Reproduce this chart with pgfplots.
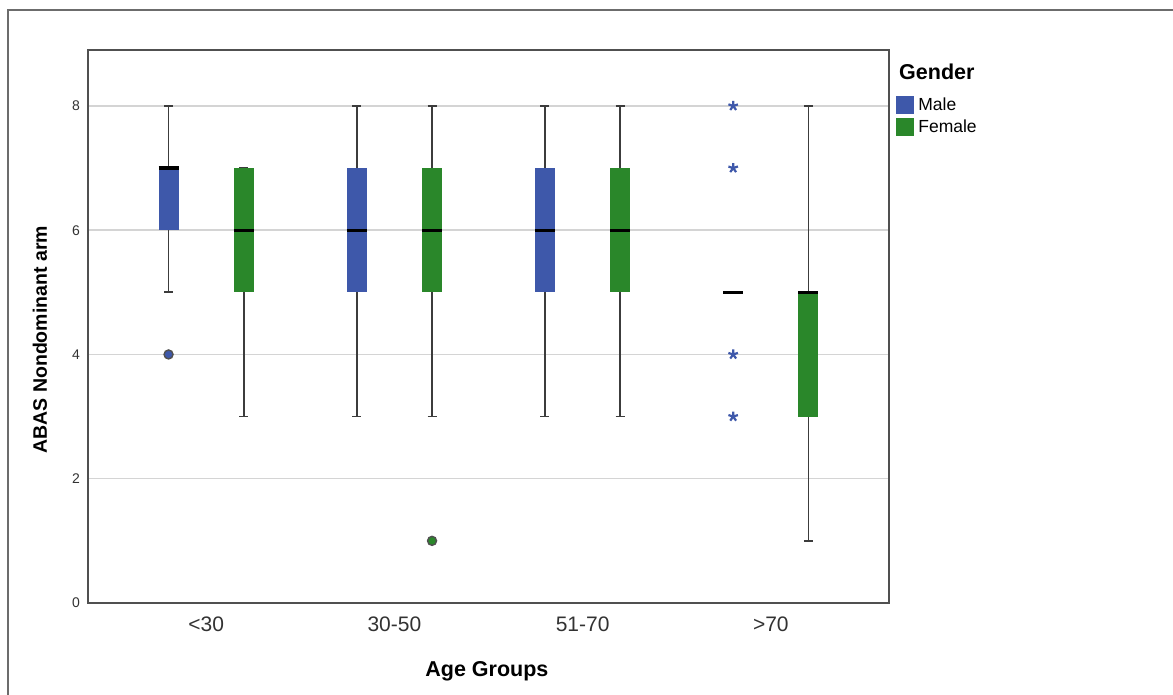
\documentclass[border=0pt]{standalone}
\usepackage{pgfplots}
\pgfplotsset{compat=1.18}
\usepgfplotslibrary{statistics}
\usepackage{fontspec}
\setmainfont{Liberation Sans}
\definecolor{mblue}{RGB}{62,88,170}
\definecolor{fgreen}{RGB}{42,135,42}
\definecolor{whisk}{RGB}{60,60,60}
\definecolor{gridc}{RGB}{212,212,212}
\definecolor{framec}{RGB}{80,80,80}
\definecolor{tickc}{RGB}{50,50,50}
\begin{document}
\begin{tikzpicture}
\useasboundingbox (0,0) rectangle (1173pt,695pt);
\begin{axis}[
  at={(88pt,92pt)}, anchor=south west,
  scale only axis, width=801pt, height=553pt,
  xmin=-0.628, xmax=3.628, ymin=0, ymax=8.9,
  xtick={0,1,2,3}, xticklabels={<30,30-50,51-70,>70},
  ytick={0,2,4,6,8},
  major tick length=0pt,
  axis line style={draw=framec, line width=1.8pt},
  ymajorgrids, grid style={draw=gridc, line width=1.5pt},
  /pgf/number format/assume math mode=true,
  yticklabel style={font=\fontsize{14}{16}\selectfont, text=tickc, inner sep=0pt, xshift=-8pt},
  xticklabel style={font=\fontsize{21}{24}\selectfont, text=tickc, inner sep=0pt, yshift=-14pt},
  xlabel={Age Groups}, ylabel={ABAS Nondominant arm},
  every axis x label/.style={at={(axis description cs:0.498,-0.1338)}, anchor=base, font=\bfseries\fontsize{21.5}{24}\selectfont, inner sep=0pt},
  every axis y label/.style={at={(axis description cs:-0.0512,0.476)}, rotate=90, anchor=base, font=\bfseries\fontsize{19.5}{22}\selectfont, inner sep=0pt},
  boxplot/draw direction=y,
  boxplot/box extend=0.106,
  boxplot/whisker extend=0.048,
  boxplot/every whisker/.style={draw=whisk, line width=1.7pt},
  boxplot/every median/.style={draw=black, line width=3.2pt},
  legend style={at={(axis description cs:1.0087,0.9168)}, anchor=north west, draw=none, fill=none, inner sep=0pt, outer sep=0pt, row sep=5pt, font=\fontsize{17.5}{20}\selectfont, cells={anchor=west}, nodes={inner sep=0pt}, /tikz/every odd column/.style={column sep=5pt}},
]
% legend images
\addlegendimage{legend image code/.code={\fill[mblue] (0pt,-8.5pt) rectangle (17pt,8.5pt);}}
\addlegendentry{Male}
\addlegendimage{legend image code/.code={\fill[fgreen] (0pt,-8.5pt) rectangle (17pt,8.5pt);}}
\addlegendentry{Female}
% <30
\addplot[forget plot, draw=whisk, boxplot/every box/.style={fill=mblue, draw=none}, boxplot prepared={draw position=-0.2, lower whisker=5, lower quartile=6, median=7, upper quartile=7, upper whisker=8}] coordinates {};
\addplot[forget plot, draw=whisk, boxplot/every box/.style={fill=fgreen, draw=none}, boxplot prepared={draw position=0.2, lower whisker=3, lower quartile=5, median=6, upper quartile=7, upper whisker=7}] coordinates {};
% 30-50
\addplot[forget plot, draw=whisk, boxplot/every box/.style={fill=mblue, draw=none}, boxplot prepared={draw position=0.8, lower whisker=3, lower quartile=5, median=6, upper quartile=7, upper whisker=8}] coordinates {};
\addplot[forget plot, draw=whisk, boxplot/every box/.style={fill=fgreen, draw=none}, boxplot prepared={draw position=1.2, lower whisker=3, lower quartile=5, median=6, upper quartile=7, upper whisker=8}] coordinates {};
% 51-70
\addplot[forget plot, draw=whisk, boxplot/every box/.style={fill=mblue, draw=none}, boxplot prepared={draw position=1.8, lower whisker=3, lower quartile=5, median=6, upper quartile=7, upper whisker=8}] coordinates {};
\addplot[forget plot, draw=whisk, boxplot/every box/.style={fill=fgreen, draw=none}, boxplot prepared={draw position=2.2, lower whisker=3, lower quartile=5, median=6, upper quartile=7, upper whisker=8}] coordinates {};
% >70
\addplot[forget plot, draw=whisk, boxplot/every box/.style={fill=mblue, draw=none}, boxplot/every whisker/.style={draw=none}, boxplot prepared={draw position=2.8, lower whisker=5, lower quartile=5, median=5, upper quartile=5, upper whisker=5}] coordinates {};
\addplot[forget plot, draw=whisk, boxplot/every box/.style={fill=fgreen, draw=none}, boxplot prepared={draw position=3.2, lower whisker=1, lower quartile=3, median=5, upper quartile=5, upper whisker=8}] coordinates {};
% outliers
\addplot[forget plot, only marks, mark=*, mark size=4.5pt, mark options={fill=mblue, draw=framec, line width=1.4pt}] coordinates {(-0.2,4)};
\addplot[forget plot, only marks, mark=*, mark size=4.5pt, mark options={fill=fgreen, draw=framec, line width=1.4pt}] coordinates {(1.2,1)};
\addplot[forget plot, only marks, mark=star, mark size=5pt, mark options={draw=mblue, line width=2.2pt}] coordinates {(2.8,8) (2.8,7) (2.8,4) (2.8,3)};
\end{axis}
\node[anchor=base west, inner sep=0pt, font=\bfseries\fontsize{21.5}{24}\selectfont] at (899pt,615pt) {Gender};
\draw[draw=gray!85!black, line width=1.5pt] (8pt,0pt) -- (8pt,685pt) -- (1173pt,685pt);
\end{tikzpicture}
\end{document}
